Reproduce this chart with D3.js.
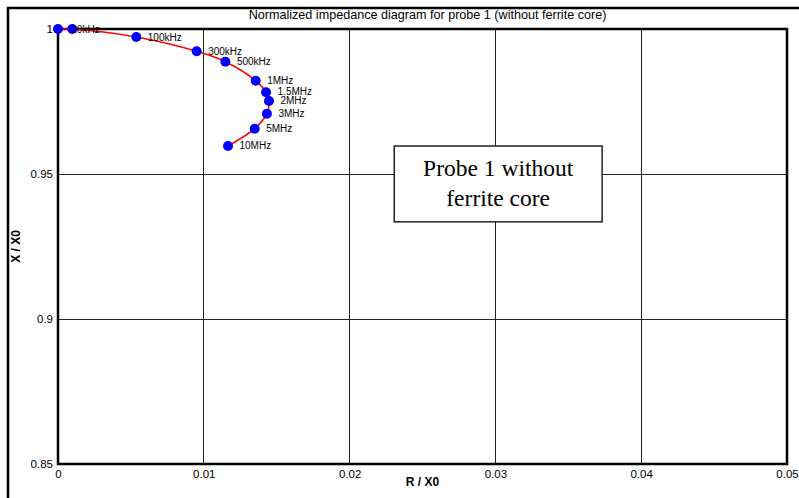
<!DOCTYPE html>
<html lang="en">
<head>
<meta charset="utf-8">
<title>Normalized impedance diagram</title>
<style>
body { margin: 0; background: #fff; }
svg { display: block; font-family: "Liberation Sans", Arial, sans-serif; }
.grid line { stroke: #222; stroke-width: 1; shape-rendering: crispEdges; }
.tick text { font-size: 11.5px; fill: #000; }
.axis-title { font-size: 12px; font-weight: bold; }
.pt-label { font-size: 10px; }
</style>
</head>
<body>
<svg width="799" height="498"></svg>
<script src="https://d3js.org/d3.v7.min.js"></script>
<script>

// frequency labels of the measured points (first point is the DC origin)
var freqs = ["", "10kHz", "100kHz", "300kHz", "500kHz", "1MHz", "1.5MHz", "2MHz", "3MHz", "5MHz", "10MHz"];
var rValues = [0, 0.00098, 0.00537, 0.00951, 0.01148, 0.01356, 0.01427, 0.01447, 0.01433, 0.01349, 0.01166];
var xValues = [1, 1, 0.99724, 0.99231, 0.98873, 0.98218, 0.97817, 0.97517, 0.97080, 0.96563, 0.95966];

var xTicks = [0, 0.01, 0.02, 0.03, 0.04, 0.05];
var xTickLabels = ["0", "0.01", "0.02", "0.03", "0.04", "0.05"];
var yTicks = [0.85, 0.9, 0.95, 1];
var yTickLabels = ["0.85", "0.9", "0.95", "1"];

var title = "Normalized impedance diagram for probe 1 (without ferrite core)";
var noteLines = ["Probe 1 without", "ferrite core"];

var svg = d3.select("svg"),
    margin = {top: 29, right: 12, bottom: 34, left: 58},
    width = +svg.attr("width") - margin.left - margin.right,
    height = +svg.attr("height") - margin.top - margin.bottom;

var x = d3.scaleLinear().domain([0, 0.05]).range([0, width]),
    y = d3.scaleLinear().domain([0.85, 1]).range([height, 0]);

// outer figure frame (only top and left edges are visible)
svg.append("path")
    .attr("d", "M8,520V8H810")
    .attr("fill", "none")
    .attr("stroke", "#000")
    .attr("stroke-width", 2.5);

svg.append("text")
    .attr("x", margin.left + width / 2 + 5)
    .attr("y", 18.5)
    .attr("text-anchor", "middle")
    .style("font-size", "12.6px")
    .text(title);

var g = svg.append("g")
    .attr("transform", "translate(" + margin.left + "," + margin.top + ")");

// grid
g.append("g").attr("class", "grid")
  .selectAll("line").data(xTicks.slice(1, -1)).enter().append("line")
    .attr("x1", function(d) { return x(d); }).attr("x2", function(d) { return x(d); })
    .attr("y1", 0).attr("y2", height);
g.append("g").attr("class", "grid")
  .selectAll("line").data(yTicks.slice(1, -1)).enter().append("line")
    .attr("y1", function(d) { return y(d); }).attr("y2", function(d) { return y(d); })
    .attr("x1", 0).attr("x2", width);

// axes (tick labels only)
g.append("g")
    .attr("transform", "translate(0," + height + ")")
    .call(d3.axisBottom(x).tickValues(xTicks).tickSize(0).tickPadding(6)
      .tickFormat(function(d, i) { return xTickLabels[i]; }))
    .call(function(a) { a.select(".domain").remove(); });

g.append("g")
    .call(d3.axisLeft(y).tickValues(yTicks).tickSize(0).tickPadding(5)
      .tickFormat(function(d, i) { return yTickLabels[i]; }))
    .call(function(a) { a.select(".domain").remove(); });

// plot frame
g.append("rect")
    .attr("width", width).attr("height", height)
    .attr("fill", "none").attr("stroke", "#000").attr("stroke-width", 2.5);

svg.append("text")
    .attr("class", "axis-title")
    .attr("x", margin.left + width / 2)
    .attr("y", 486)
    .attr("text-anchor", "middle")
    .text("R / X0");

svg.append("text")
    .attr("class", "axis-title")
    .attr("transform", "translate(20," + (margin.top + height / 2) + ") rotate(-90)")
    .attr("text-anchor", "middle")
    .text("X / X0");

// annotation box
var note = g.append("g");
note.append("rect")
    .attr("x", x(0.02306)).attr("y", y(0.95965))
    .attr("width", x(0.03732) - x(0.02306))
    .attr("height", y(0.9335) - y(0.95965))
    .attr("fill", "#fff").attr("stroke", "#000").attr("stroke-width", 1.3);
note.selectAll("text").data(noteLines).enter().append("text")
    .attr("x", (x(0.02306) + x(0.03732)) / 2)
    .attr("y", function(d, i) { return y(0.95965) + 30 + i * 30; })
    .attr("text-anchor", "middle")
    .style("font-family", "'Liberation Serif', 'Times New Roman', serif")
    .style("font-size", "23.5px")
    .text(function(d) { return d; });

var data = freqs.map(function(f, i) { return {f: f, r: rValues[i], x: xValues[i]}; });

g.append("path")
    .datum(data)
    .attr("fill", "none")
    .attr("stroke", "#ff0000")
    .attr("stroke-width", 1.6)
    .attr("d", d3.line()
      .x(function(d) { return x(d.r); })
      .y(function(d) { return y(d.x); })
      .curve(d3.curveCatmullRom));

g.selectAll(".dot")
    .data(data)
  .enter().append("circle")
    .attr("class", "dot")
    .attr("cx", function(d) { return x(d.r); })
    .attr("cy", function(d) { return y(d.x); })
    .attr("r", 5)
    .attr("fill", "#0000ff");

g.selectAll(".pt-label")
    .data(data.filter(function(d) { return d.f; }))
  .enter().append("text")
    .attr("class", "pt-label")
    .attr("x", function(d) { return x(d.r) + (d.f === "10kHz" ? -1 : 11.5); })
    .attr("y", function(d) {
      var off = d.f === "1.5MHz" ? -1.3 : (d.f === "2MHz" ? -1 : 0);
      return y(d.x) + off;
    })
    .attr("dy", "0.35em")
    .text(function(d) { return d.f; });

</script>
</body>
</html>
